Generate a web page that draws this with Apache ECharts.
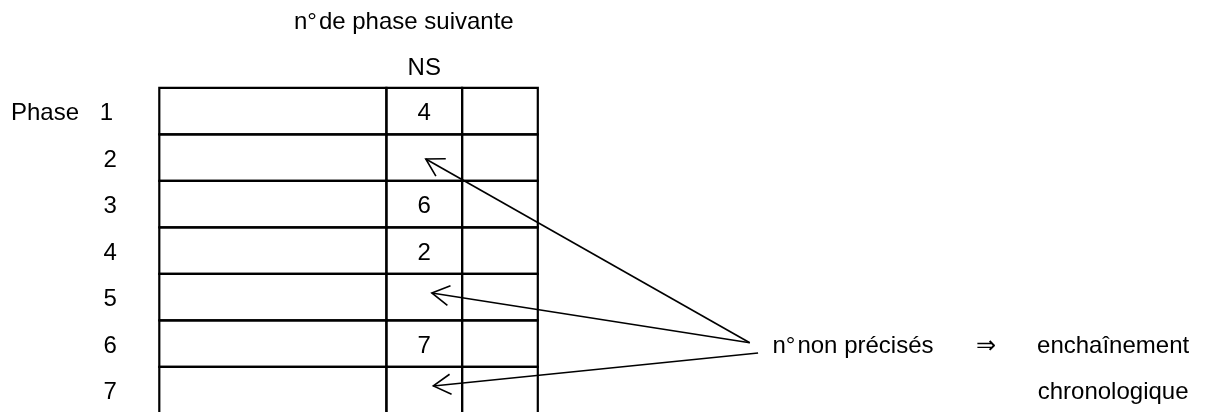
<!DOCTYPE html>
<html lang="fr">
<head>
<meta charset="UTF-8">
<script src="https://cdn.jsdelivr.net/npm/echarts@6/dist/echarts.min.js"></script>
<style>
  html, body { margin: 0; background: #fff; }
  #chart { width: 1209px; height: 412px; }
</style>
</head>
<body>
<div id="chart"></div>
<script>
// x in column units (one narrow column = 1), y in rows (row 0 = phase 1)
var colEdges = [0, 3, 4, 5];
var phases = ['1', '2', '3', '4', '5', '6', '7'];
var nextPhase = ['4', '', '6', '2', '', '7', ''];
var phaseLabelX = [-0.70, -0.65, -0.65, -0.65, -0.65, -0.65, -0.65];
// arrows from the note to the empty NS cells: [x1, y1, x2, y2]
var arrows = [
    [7.80, 5.48, 3.52, 1.53],
    [7.80, 5.48, 3.60, 4.41],
    [7.91, 5.70, 3.62, 6.41]
];
// free texts: [x, y, text, align]
var notes = [
    [3.23, -1.456, 'n°\u200ade phase suivante', 'center'],
    [3.5, -0.47, 'NS', 'center'],
    [-1.96, 0.5, 'Phase', 'left'],
    [8.10, 5.5, 'n°\u200anon précisés', 'left'],
    [10.92, 5.5, '⇒', 'center'],
    [12.6, 5.5, 'enchaînement', 'center'],
    [12.6, 6.5, 'chronologique', 'center']
];

var FONT = '24px "Liberation Sans", Arial, sans-serif';

var myChart = echarts.init(document.getElementById('chart'));

// text placed so its capital letters are centred on p
function textEl(p, str, align) {
    return {
        type: 'text',
        style: { x: p[0], y: p[1] + 2.5, text: str, font: FONT, fill: '#000', align: align, verticalAlign: 'middle' }
    };
}

var option = {
    animation: false,
    backgroundColor: '#fff',
    // last row runs just past the bottom edge, as in the reference
    grid: { left: 159.3, right: 671.2, top: 87.8, bottom: 0 },
    xAxis: { type: 'value', min: 0, max: 5, show: false },
    yAxis: { type: 'value', min: 0, max: 6.97, inverse: true, show: false },
    series: [
        {
            // table rows
            type: 'custom',
            clip: false,
            data: phases.map(function (p, i) { return [i]; }),
            renderItem: function (params, api) {
                var i = api.value(0);
                var kids = [];
                for (var c = 0; c < colEdges.length - 1; c++) {
                    var a = api.coord([colEdges[c], i]);
                    var b = api.coord([colEdges[c + 1], i + 1]);
                    kids.push({
                        type: 'rect',
                        shape: { x: a[0], y: a[1], width: b[0] - a[0], height: b[1] - a[1] },
                        style: { fill: 'none', stroke: '#000', lineWidth: 2.2 }
                    });
                }
                if (nextPhase[i]) {
                    kids.push(textEl(api.coord([(colEdges[1] + colEdges[2]) / 2, i + 0.5]), nextPhase[i], 'center'));
                }
                kids.push(textEl(api.coord([phaseLabelX[i], i + 0.5]), phases[i], 'center'));
                return { type: 'group', children: kids };
            }
        },
        {
            // arrows with open heads
            type: 'custom',
            clip: false,
            data: arrows,
            renderItem: function (params, api) {
                var s = api.coord([api.value(0), api.value(1)]);
                var t = api.coord([api.value(2), api.value(3)]);
                var ang = Math.atan2(s[1] - t[1], s[0] - t[0]);
                var len = 20, spread = 30 * Math.PI / 180;
                var h1 = [t[0] + len * Math.cos(ang - spread), t[1] + len * Math.sin(ang - spread)];
                var h2 = [t[0] + len * Math.cos(ang + spread), t[1] + len * Math.sin(ang + spread)];
                var st = { stroke: '#000', lineWidth: 1.6, fill: 'none' };
                return {
                    type: 'group',
                    children: [
                        { type: 'line', shape: { x1: s[0], y1: s[1], x2: t[0], y2: t[1] }, style: st },
                        { type: 'polyline', shape: { points: [h1, t, h2] }, style: st }
                    ]
                };
            }
        },
        {
            // free texts
            type: 'custom',
            clip: false,
            data: notes.map(function (n, i) { return [n[0], n[1], i]; }),
            renderItem: function (params, api) {
                var n = notes[api.value(2)];
                return textEl(api.coord([n[0], n[1]]), n[2], n[3]);
            }
        }
    ]
};

myChart.setOption(option);
</script>
</body>
</html>
